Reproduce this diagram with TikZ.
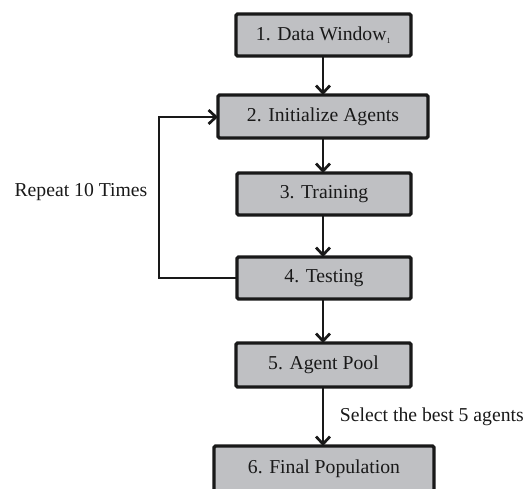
\documentclass[tikz,border=0pt]{standalone}
\usepackage{fontspec}
\setmainfont{Liberation Serif}
\usetikzlibrary{arrows.meta}
\definecolor{boxgray}{RGB}{191,192,195}
\definecolor{ink}{RGB}{25,25,25}
\begin{document}
\begin{tikzpicture}[x=1pt,y=-1pt,
  box/.style={draw=ink, line width=3.4pt, fill=boxgray, rounded corners=1.5pt},
  lbl/.style={font=\fontsize{19.7}{23}\selectfont, text=ink},
  conn/.style={draw=ink, line width=2.7pt, -{Straight Barb[length=7.5pt,width=14pt,line width=2.7pt]}}]
\useasboundingbox (0,0) rectangle (525,488);
% boxes
\draw[box] (236,14) rectangle (411,56);
\node[lbl] (b1) at (323.5,35) {1. Data Window\textsubscript{\fontsize{8}{8}\selectfont 1}};
\draw[box] (218,95) rectangle (428,138);
\node[lbl] (b2) at (323,116.5) {2. Initialize Agents};
\draw[box] (237,173) rectangle (411,215);
\node[lbl] (b3) at (324,194) {3. Training};
\draw[box] (237,257) rectangle (411,299);
\node[lbl] (b4) at (324,278) {4. Testing};
\draw[box] (236,343) rectangle (411,387);
\node[lbl] (b5) at (323.5,365) {5. Agent Pool};
\draw[box] (214,446) rectangle (434,494);
\node[lbl] (b6) at (324,469) {6. Final Population};
% anchors
\coordinate (b1s) at (323,56);
\coordinate (b2n) at (323,95);
\coordinate (b2s) at (323,138);
\coordinate (b2w) at (218,117);
\coordinate (b3n) at (323,173);
\coordinate (b3s) at (323,215);
\coordinate (b4n) at (323,257);
\coordinate (b4s) at (323,299);
\coordinate (b4w) at (237,278);
\coordinate (b5n) at (323,343);
\coordinate (b5s) at (323,387);
\coordinate (b6n) at (323,446);
\coordinate (fbl) at (159,278);
\coordinate (fbt) at (159,117);
% connectors
\draw[conn] (b1s) -- (b2n);
\draw[conn] (b2s) -- (b3n);
\draw[conn] (b3s) -- (b4n);
\draw[conn] (b4s) -- (b5n);
\draw[conn] (b5s) -- (b6n);
\draw[conn, line join=miter] (b4w) -- (fbl) -- (fbt) -- (b2w);
% labels
\node[lbl, anchor=west] (rep) at (11,192) {Repeat 10 Times};
\node[lbl, anchor=east, inner xsep=0pt] (sel) at (524,417) {Select the best 5 agents};
\end{tikzpicture}
\end{document}
